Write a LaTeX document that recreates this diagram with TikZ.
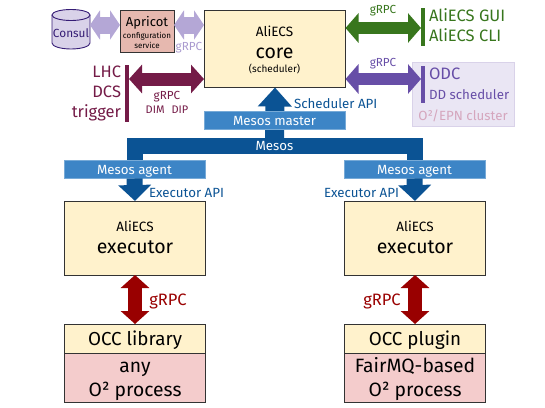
\documentclass[tikz,border=0pt]{standalone}
\usepackage{fontspec}
\setmainfont{Fira Sans}
\usetikzlibrary{arrows.meta,calc}
\definecolor{ecsfill}{HTML}{FFF2CC}
\definecolor{procfill}{HTML}{F4CCCC}
\definecolor{apfill}{HTML}{E6B8AF}
\definecolor{lilac}{HTML}{B4A7D6}
\definecolor{lilacfill}{HTML}{D9D2E9}
\definecolor{clusterfill}{HTML}{EAE6F4}
\definecolor{clusterpink}{HTML}{D5A6BD}
\definecolor{plum}{HTML}{741B47}
\definecolor{leaf}{HTML}{38761D}
\definecolor{violet}{HTML}{674EA7}
\definecolor{deepviolet}{HTML}{351C75}
\definecolor{navy}{HTML}{0B5394}
\definecolor{midblue}{HTML}{3D85C6}
\definecolor{darkred}{HTML}{990000}
\definecolor{edge}{HTML}{333333}
\tikzset{
  x=1pt,y=-1pt,
  every node/.style={outer sep=0pt},
  box/.style={draw=edge,line width=1pt,minimum width=#1,inner sep=0pt,anchor=north west},
  bluebox/.style={draw=midblue!70!white,line width=.6pt,fill=midblue,text=white,inner sep=0pt,anchor=north west,minimum width=141pt,minimum height=18.5pt,text height=10pt,text depth=0pt,font=\fontsize{13.3}{15}\selectfont},
  bar/.style={inner sep=0pt,minimum width=4pt},
  twoway/.style n args={3}{draw=#3,line width=#1,{Triangle[length=13pt,width=#2,fill=#3]}-{Triangle[length=13pt,width=#2,fill=#3]}},
  oneway/.style n args={2}{draw=navy,line width=16pt,-{Triangle[length=#1,width=#2,fill=navy]}},
  lab/.style={inner sep=0pt,anchor=base,font=\fontsize{13.3}{15}\selectfont},
  big/.style={inner sep=0pt,anchor=base,font=\fontsize{16.5}{18}\selectfont},
  occ/.style={inner sep=0pt,anchor=base,font=\fontsize{19.3}{21}\selectfont},
  occt/.style={inner sep=0pt,anchor=base,font=\fontsize{18.8}{21}\selectfont},
  small/.style={lab,font=\fontsize{11.7}{13}\selectfont},
  aliecs/.style={inner sep=0pt,anchor=base,font=\fontsize{13.5}{15}\selectfont},
  huge/.style={inner sep=0pt,anchor=base,font=\fontsize{19.5}{21}\selectfont},
}
\begin{document}
\begin{tikzpicture}
\useasboundingbox (0,0) rectangle (545,407);
% cluster
\node[draw=lilacfill,fill=clusterfill,line width=.8pt,inner sep=0pt,anchor=north west,minimum width=102pt,minimum height=64pt] (cluster) at (412,62) {};
% boxes
\node[box=141pt,fill=ecsfill,minimum height=77pt] (core) at (204.5,10.5) {};
\node[box=54pt,fill=apfill,minimum height=42pt] (apricot) at (120,10) {};
% Consul cylinder
\path[draw=deepviolet,line width=.9pt,fill=lilacfill] (52,15) -- (52,43) arc[start angle=180,end angle=360,x radius=19pt,y radius=6pt] -- (90,15);
\path[draw=deepviolet,line width=.9pt,fill=lilacfill] (71,15) ellipse[x radius=19pt,y radius=5.5pt];
\node[inner sep=0pt,anchor=base,text=deepviolet,font=\fontsize{11.8}{13}\selectfont] (consultxt) at (71,37) {Consul};
\node[inner sep=0pt,anchor=base,font=\fontsize{13}{15}\selectfont] (aptitle) at (147,26) {Apricot};
\node[inner sep=0pt,anchor=base,font=\fontsize{8}{9}\selectfont] (apl1) at (147,38) {configuration};
\node[inner sep=0pt,anchor=base,font=\fontsize{8}{9}\selectfont] (apl2) at (147,48) {service};
% purple arrows top
\coordinate (consulE) at (90,25);
\coordinate (apW) at (120,25);
\coordinate (apE) at (174,25);
\coordinate (coreWt) at (204,25);
\draw[twoway={17pt}{29pt}{lilac},{Triangle[length=10pt,width=29pt,fill=lilac]}-{Triangle[length=10pt,width=29pt,fill=lilac]}] (consulE) -- (apW);
\draw[twoway={17pt}{29pt}{lilac},{Triangle[length=10pt,width=29pt,fill=lilac]}-{Triangle[length=10pt,width=29pt,fill=lilac]}] (apE) -- (coreWt);
\node[small,text=lilac!85!violet] (g0) at (189,50) {gRPC};
% core text
\node[aliecs] (c1) at (274.5,36) {AliECS};
\node[huge] (c2) at (274.5,58) {core};
\node[inner sep=0pt,anchor=base,font=\fontsize{10}{12}\selectfont] (c3) at (274.5,72) {(scheduler)};
% LHC
\node[bar,fill=plum,minimum height=57pt] (lhcbar) at (126.5,93.5) {};
\node[big,text=plum,anchor=base east] (lhc) at (121,77) {LHC};
\node[big,text=plum,anchor=base east] (dcs) at (121,97) {DCS};
\node[big,text=plum,anchor=base east] (trg) at (121,117) {trigger};
\coordinate (lhcA) at (129,79);
\coordinate (coreA) at (204,79);
\draw[twoway={13pt}{28pt}{plum}] (lhcA) -- (coreA);
\node[small,text=plum] (g1) at (167,99) {gRPC};
\node[small,text=plum,font=\fontsize{11}{13}\selectfont] (g2) at (167,113) {DIM\hspace{4pt} DIP};
% GUI
\node[bar,fill=leaf,minimum height=38pt] (guibar) at (423,27) {};
\node[big,text=leaf,anchor=base west] (gui) at (429,21) {AliECS GUI};
\node[big,text=leaf,anchor=base west] (cli) at (429,41) {AliECS CLI};
\coordinate (coreG) at (345.5,28);
\coordinate (guiA) at (421,28);
\draw[twoway={12pt}{29pt}{leaf}] (coreG) -- (guiA);
\node[small,text=leaf] (g3) at (383,13) {gRPC};
% ODC
\node[bar,fill=violet,minimum height=37pt] (odcbar) at (423,84.5) {};
\node[big,anchor=base west,text=violet] (odc) at (429,79.5) {ODC};
\node[lab,anchor=base west,text=violet] (dd) at (429,99) {DD scheduler};
\node[lab,text=clusterpink] (epn) at (463,120) {O²/EPN cluster};
\coordinate (coreO) at (345.5,79);
\coordinate (odcA) at (421,79);
\draw[twoway={12pt}{29pt}{violet}] (coreO) -- (odcA);
\node[small,text=violet] (g4) at (383,66) {gRPC};
% Mesos structure
\node[box=141pt,fill=ecsfill,minimum height=74pt] (execL) at (64.5,201) {};
\node[box=141pt,fill=ecsfill,minimum height=74pt] (execR) at (344.5,201) {};
\coordinate (busM) at (274.5,146);
\coordinate (agentLtop) at (135,170);
\coordinate (agentRtop) at (414.5,170);
\draw[draw=navy,line width=16pt,line join=miter] (agentLtop) |- (busM) -| (agentRtop);
\draw[navy,line width=19pt,-{Triangle[length=19pt,width=33pt,fill=navy]}] (busM) -- (core.south);
\node[bluebox] (master) at (204,111) {Mesos master};
\node[bluebox] (agentL) at (64,160) {Mesos agent};
\node[bluebox] (agentR) at (344,160) {Mesos agent};
\draw[oneway={16pt}{32pt}] (agentL.south) -- (execL.north);
\draw[oneway={16pt}{32pt}] (agentR.south) -- (execR.north);
\node[lab,text=white] (mesos) at (274.5,150.5) {Mesos};
\node[lab,text=navy,anchor=base west] (sapi) at (294,108) {Scheduler API};
\node[lab,text=navy,anchor=base west] (eapiL) at (149,197) {Executor API};
\node[lab,text=navy,anchor=base west] (eapiR) at (324,197) {Executor API};
% executors
\node[aliecs] (e1) at (135,231) {AliECS};
\node[huge] (e2) at (135,253) {executor};
\node[aliecs] (e3) at (415,231) {AliECS};
\node[huge] (e4) at (415,253) {executor};
% OCC
\node[box=141pt,fill=ecsfill,minimum height=29pt] (occL) at (64.5,324) {};
\node[box=141pt,fill=procfill,minimum height=49pt] (procL) at (64.5,353) {};
\node[box=141pt,fill=ecsfill,minimum height=29pt] (occR) at (344.5,324) {};
\node[box=141pt,fill=procfill,minimum height=49pt] (procR) at (344.5,353) {};
\draw[twoway={14pt}{28pt}{darkred}] (execL.south) -- (occL.north);
\draw[twoway={14pt}{28pt}{darkred}] (execR.south) -- (occR.north);
\node[big,text=darkred] (g5) at (168,305) {gRPC};
\node[big,text=darkred] (g6) at (382,305) {gRPC};
\node[occt] (t1) at (135,345) {OCC library};
\node[occ] (t2) at (135,372) {any};
\node[occ] (t3) at (135,396) {O² process};
\node[occt] (t4) at (415,345) {OCC plugin};
\node[occ] (t5) at (415,372) {FairMQ-based};
\node[occ] (t6) at (415,396) {O² process};
\end{tikzpicture}
\end{document}
